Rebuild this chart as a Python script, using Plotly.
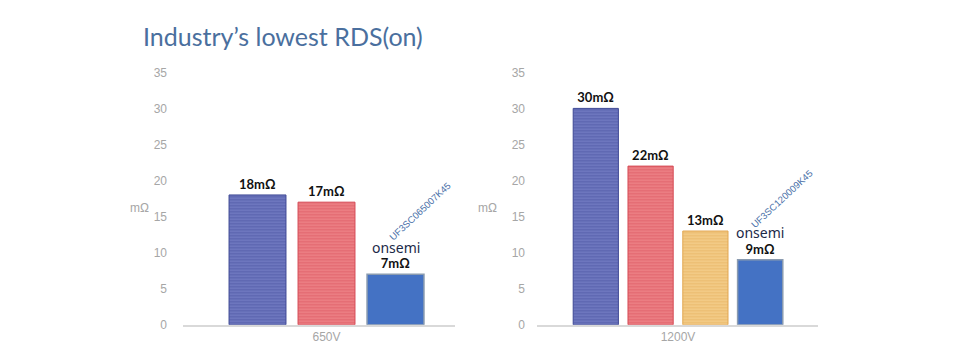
import plotly.graph_objects as go

# ---- data ----
title_text = "Industry’s lowest RDS(on)"
unit_label = "mΩ"
group_650 = ["650V"]
group_1200 = ["1200V"]
series_650 = ["Competitor A", "Competitor B", "onsemi"]
values_650 = [18, 17, 7]
series_1200 = ["Competitor A", "Competitor B", "Competitor C", "onsemi"]
values_1200 = [30, 22, 13, 9]
part_650 = "UF3SC065007K45"
part_1200 = "UF3SC120009K45"
y_ticks = [0, 5, 10, 15, 20, 25, 30, 35]

# ---- styles ----
styles = {
    "Competitor A": dict(bg="#737dc4", fg="#3f4995", striped=True),
    "Competitor B": dict(bg="#ee8488", fg="#d54a55", striped=True),
    "Competitor C": dict(bg="#f5cf8c", fg="#e2a752", striped=True),
    "onsemi": dict(bg="#4472c4", fg="#4472c4", striped=False),
}

W, H = 960, 360
# observed page frame of the rendered figure (pixels)
FX0, FY0, FH = 8, 16, 344


def px_x(x):
    return (x - FX0) / W


def px_y(y):
    return (H - y) / FH


fig = go.Figure()


def add_bars(names, values, cat, xa, ya):
    for n, v in zip(names, values):
        s = styles[n]
        marker = dict(color=s["bg"])
        if s["striped"]:
            marker["pattern"] = dict(shape="-", fgcolor=s["fg"], bgcolor=s["bg"],
                                     size=3, solidity=0.5, fillmode="overlay")
            marker["line"] = dict(color=s["fg"], width=1)
        else:
            marker["line"] = dict(color="#8a9bb0", width=1.5)
        fig.add_trace(go.Bar(
            x=cat, y=[v], name=n, xaxis=xa, yaxis=ya, marker=marker,
            text=[f"<b>{v}mΩ</b>"], textposition="outside",
            textfont=dict(family="Lato, Open Sans, sans-serif", size=13, color="#111111"),
            cliponaxis=False, showlegend=False,
        ))


add_bars(series_650, values_650, group_650, "x", "y")
add_bars(series_1200, values_1200, group_1200, "x2", "y2")

ydom = [px_y(324), px_y(73)]

axis_common = dict(showgrid=False, zeroline=False)
ycommon = dict(range=[0, 35], tickvals=y_ticks, showline=False, ticks="",
               tickfont=dict(family="Liberation Sans, Arial, sans-serif", size=12, color="#a6a6a6"),
               domain=ydom, **axis_common)
xcommon = dict(showline=True, linecolor="#d9d9d9", linewidth=1.5, ticks="",
               tickfont=dict(family="Liberation Sans, Arial, sans-serif", size=12, color="#a6a6a6"),
               **axis_common)

fig.update_layout(
    width=W, height=H,
    margin=dict(l=0, r=0, t=0, b=0),
    paper_bgcolor="white", plot_bgcolor="white",
    barmode="group", bargap=0.2, bargroupgap=0.175,
    xaxis=dict(domain=[px_x(183), px_x(455)], range=[-0.5546, 0.4966], anchor="y", **xcommon),
    yaxis=dict(anchor="x", ticklabelstandoff=15, **ycommon),
    xaxis2=dict(domain=[px_x(537), px_x(818)], range=[-0.5146, 0.511], anchor="y2", **xcommon),
    yaxis2=dict(anchor="x2", ticklabelstandoff=11, **ycommon),
)

ann = []
ann.append(dict(text=title_text, xref="paper", yref="paper", x=px_x(141), y=px_y(37),
                xanchor="left", yanchor="middle", showarrow=False,
                font=dict(family="Lato, sans-serif", size=25, color="#4a6f9e")))
for px in (139, 487):
    ann.append(dict(text=unit_label, xref="paper", yref="paper", x=px_x(px), y=px_y(208),
                    xanchor="center", yanchor="middle", showarrow=False,
                    font=dict(family="Liberation Sans, Arial, sans-serif", size=12, color="#a6a6a6")))

# onsemi logo text and part numbers near the onsemi bars
for xa, ya, xc, v, part, pshift in (("x", "y", 0.2667, values_650[-1], part_650, (24, 63)),
                                    ("x2", "y2", 0.3, values_1200[-1], part_1200, (22, 61))):
    ann.append(dict(text="onsemi", xref=xa, yref=ya, x=xc, y=v, yshift=27,
                    xanchor="center", yanchor="middle", showarrow=False,
                    font=dict(family="Noto Sans, sans-serif", size=14, color="#1b2a48")))
    ann.append(dict(text=part, xref=xa, yref=ya, x=xc, y=v, xshift=pshift[0], yshift=pshift[1],
                    xanchor="center", yanchor="middle", showarrow=False, textangle=-43,
                    font=dict(family="Liberation Sans, Arial, sans-serif", size=9.5, color="#4a70a8")))

fig.update_layout(annotations=ann)
fig.write_html("out.html")
